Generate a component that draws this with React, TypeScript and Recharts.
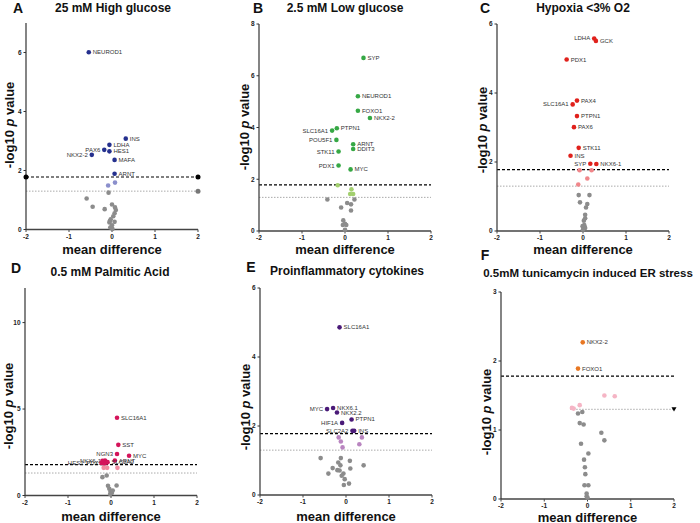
import React from "react";
import { ScatterChart, Scatter, XAxis, YAxis, ReferenceLine, ReferenceDot } from "recharts";

type Pt = { x: number; y: number; name?: string };

const xTicks = [-2, -1, 0, 1, 2];
const sigLine = 1.78;
const pLine = 1.3;

// A - 25 mM high glucose
const aSig: Pt[] = [
  { x: -0.54, y: 6.01, name: "NEUROD1" },
  { x: 0.32, y: 3.08, name: "INS" },
  { x: -0.06, y: 2.87, name: "LDHA" },
  { x: -0.18, y: 2.7, name: "PAX6" },
  { x: -0.06, y: 2.65, name: "HES1" },
  { x: -0.47, y: 2.53, name: "NKX2-2" },
  { x: 0.06, y: 2.36, name: "MAFA" },
  { x: 0.06, y: 1.89, name: "ARNT" }
];
const aNear: Pt[] = [{ x: -0.09, y: 1.49 }, { x: 0.07, y: 1.59 }];
const aNs: Pt[] = [
  { x: -0.08, y: 1.25 }, { x: -0.59, y: 1.05 }, { x: -0.45, y: 0.77 }, { x: -0.17, y: 0.69 },
  { x: 0, y: 0.85 }, { x: 0.07, y: 0.75 }, { x: 0.09, y: 0.66 }, { x: 0.06, y: 0.55 },
  { x: 0.03, y: 0.45 }, { x: -0.03, y: 0.35 }, { x: 0.06, y: 0.26 }, { x: -0.06, y: 0.24 },
  { x: 0, y: 0.14 }, { x: -0.04, y: 0.07 }, { x: 0.01, y: 0.02 }, { x: -0.05, y: 0.29 }
];

// B - 2.5 mM low glucose
const bSig: Pt[] = [
  { x: 0.43, y: 6.69, name: "SYP" },
  { x: 0.3, y: 5.21, name: "NEUROD1" },
  { x: 0.3, y: 4.65, name: "FOXO1" },
  { x: 0.58, y: 4.37, name: "NKX2-2" },
  { x: -0.19, y: 3.97, name: "PTPN1" },
  { x: -0.3, y: 3.88, name: "SLC16A1" },
  { x: -0.2, y: 3.52, name: "POU5F1" },
  { x: 0.19, y: 3.35, name: "ARNT" },
  { x: 0.19, y: 3.17, name: "DDIT3" },
  { x: -0.15, y: 3.07, name: "STK11" },
  { x: -0.15, y: 2.53, name: "PDX1" },
  { x: 0.13, y: 2.38, name: "MYC" }
];
const bNear: Pt[] = [{ x: -0.17, y: 1.77 }, { x: 0.15, y: 1.61 }, { x: 0.12, y: 1.43 }, { x: 0.19, y: 1.43 }];
const bNs: Pt[] = [
  { x: -0.41, y: 1.22 }, { x: 0.22, y: 1.22 }, { x: 0.05, y: 1.08 }, { x: 0.14, y: 1.03 },
  { x: -0.09, y: 0.91 }, { x: 0.14, y: 0.79 }, { x: -0.04, y: 0.41 }, { x: 0, y: 0.28 },
  { x: 0.03, y: 0.23 }, { x: 0, y: 0.05 }, { x: -0.05, y: 0.23 }
];

// C - hypoxia
const cSig: Pt[] = [
  { x: 0.26, y: 5.58, name: "LDHA" },
  { x: 0.3, y: 5.51, name: "GCK" },
  { x: -0.38, y: 4.97, name: "PDX1" },
  { x: -0.14, y: 3.78, name: "PAX4" },
  { x: -0.24, y: 3.67, name: "SLC16A1" },
  { x: -0.14, y: 3.33, name: "PTPN1" },
  { x: -0.21, y: 3.01, name: "PAX6" },
  { x: -0.1, y: 2.41, name: "STK11" },
  { x: -0.29, y: 2.18, name: "INS" },
  { x: 0.17, y: 1.95, name: "SYP" },
  { x: 0.31, y: 1.94, name: "NKX6-1" }
];
const cNear: Pt[] = [{ x: -0.08, y: 1.76 }, { x: 0.2, y: 1.76 }, { x: 0.1, y: 1.52 }, { x: -0.11, y: 1.35 }];
const cNs: Pt[] = [
  { x: -0.1, y: 1.04 }, { x: 0.15, y: 1.04 }, { x: -0.07, y: 0.83 }, { x: 0.1, y: 0.78 },
  { x: 0.07, y: 0.68 }, { x: 0.05, y: 0.47 }, { x: 0.05, y: 0.37 }, { x: 0.02, y: 0.3 },
  { x: 0.03, y: 0.17 }, { x: -0.01, y: 0.14 }, { x: 0.05, y: 0.09 }, { x: 0, y: 0.04 }
];

// D - palmitic acid
const dSig: Pt[] = [
  { x: 0.14, y: 4.5, name: "SLC16A1" },
  { x: 0.17, y: 2.93, name: "SST" },
  { x: 0.42, y: 2.3, name: "MYC" },
  { x: 0.14, y: 2.4, name: "NGN3" },
  { x: 0.09, y: 2.02, name: "ARNT" },
  { x: -0.14, y: 2.02, name: "NKX6-1" },
  { x: -0.12, y: 1.9, name: "PDX1" },
  { x: -0.22, y: 1.88, name: "HES1" },
  { x: -0.08, y: 1.93, name: "SLC2A2" },
  { x: -0.18, y: 1.96 }, { x: -0.16, y: 1.85 }, { x: -0.2, y: 2.0 }
];
const dNear: Pt[] = [{ x: -0.17, y: 1.6 }, { x: -0.09, y: 1.6 }, { x: 0.15, y: 1.6 }];
const dNs: Pt[] = [
  { x: -0.2, y: 1.06 }, { x: -0.1, y: 1.16 }, { x: -0.07, y: 0.56 }, { x: 0.13, y: 0.58 },
  { x: -0.04, y: 0.39 }, { x: -0.01, y: 0.25 }, { x: 0.02, y: 0.15 }, { x: -0.02, y: 0.08 },
  { x: 0.04, y: 0.29 }
];

// E - proinflammatory cytokines
const eSig: Pt[] = [
  { x: -0.15, y: 4.86, name: "SLC16A1" },
  { x: -0.44, y: 2.49, name: "MYC" },
  { x: -0.3, y: 2.52, name: "NKX6.1" },
  { x: -0.21, y: 2.39, name: "NKX2.2" },
  { x: 0.13, y: 2.19, name: "PTPN1" },
  { x: -0.09, y: 2.09, name: "HIF1A" },
  { x: 0.15, y: 1.86, name: "SLC2A2" },
  { x: 0.19, y: 1.86, name: "INS" }
];
const eNear: Pt[] = [
  { x: -0.17, y: 1.67 }, { x: 0.37, y: 1.67 }, { x: -0.12, y: 1.55 }, { x: 0.31, y: 1.47 }, { x: -0.08, y: 1.38 }
];
const eNs: Pt[] = [
  { x: -0.59, y: 1.07 }, { x: -0.12, y: 1.07 }, { x: 0.09, y: 0.99 }, { x: -0.18, y: 0.94 },
  { x: -0.13, y: 0.86 }, { x: 0.41, y: 0.86 }, { x: -0.31, y: 0.78 }, { x: 0.1, y: 0.77 },
  { x: -0.2, y: 0.72 }, { x: -0.15, y: 0.71 }, { x: -0.41, y: 0.62 }, { x: -0.06, y: 0.62 },
  { x: -0.1, y: 0.56 }, { x: -0.03, y: 0.46 }, { x: 0.07, y: 0.33 }, { x: -0.05, y: 0.29 }
];

// F - tunicamycin
const fSig: Pt[] = [
  { x: -0.11, y: 2.27, name: "NKX2-2" },
  { x: -0.22, y: 1.89, name: "FOXO1" }
];
const fNear: Pt[] = [
  { x: 0.39, y: 1.5 }, { x: 0.63, y: 1.49 }, { x: -0.18, y: 1.36 }, { x: -0.36, y: 1.32 }, { x: -0.32, y: 1.31 }
];
const fNs: Pt[] = [
  { x: -0.12, y: 1.26 }, { x: -0.22, y: 1.24 }, { x: -0.18, y: 1.1 }, { x: -0.09, y: 1.08 },
  { x: 0.32, y: 0.96 }, { x: 0.39, y: 0.85 }, { x: -0.15, y: 0.8 }, { x: 0.02, y: 0.66 },
  { x: -0.08, y: 0.57 }, { x: -0.06, y: 0.46 }, { x: -0.05, y: 0.36 }, { x: -0.07, y: 0.2 },
  { x: 0.02, y: 0.2 }, { x: -0.02, y: 0.08 }, { x: -0.02, y: 0.04 }, { x: 0, y: 0.02 }
];

const grey = "#8c8c8c";

type Cfg = {
  letter: string;
  title: string;
  plot: { l: number; r: number; t: number; b: number };
  yDomain: [number, number];
  yTicks: number[];
  sig: Pt[];
  near: Pt[];
  ns: Pt[];
  color: string;
  light: string;
  left: string[];
  shift?: Record<string, number>;
  letterAt: [number, number];
  titleAt: [number, number];
  titleSize?: number;
  yLabelAt: [number, number];
  xLabelY: number;
  dottedFrom?: number;
  endDots?: boolean;
  triangle?: boolean;
};

const panels: Cfg[] = [
  {
    letter: "A", title: "25 mM High glucose",
    plot: { l: 26, r: 198, t: 22.5, b: 229 }, yDomain: [0, 7], yTicks: [0, 2, 4, 6],
    sig: aSig, near: aNear, ns: aNs, color: "#25308e", light: "#8b8fcc",
    left: ["PAX6", "NKX2-2"], letterAt: [18, 8], titleAt: [113, 8], yLabelAt: [9, 125], xLabelY: 249,
    endDots: true
  },
  {
    letter: "B", title: "2.5 mM Low glucose",
    plot: { l: 259, r: 431, t: 24, b: 231 }, yDomain: [0, 8], yTicks: [0, 2, 4, 6, 8],
    sig: bSig, near: bNear, ns: bNs, color: "#36a845", light: "#a2cf6e",
    left: ["SLC16A1", "POU5F1", "STK11", "PDX1"], letterAt: [258, 8], titleAt: [345, 8], yLabelAt: [244, 127], xLabelY: 249
  },
  {
    letter: "C", title: "Hypoxia <3% O2",
    plot: { l: 497, r: 669, t: 24, b: 231 }, yDomain: [0, 6], yTicks: [0, 2, 4, 6],
    sig: cSig, near: cNear, ns: cNs, color: "#e0211c", light: "#f0868a",
    left: ["LDHA", "SLC16A1", "SYP"], letterAt: [485, 8], titleAt: [583, 8], yLabelAt: [482, 130], xLabelY: 249
  },
  {
    letter: "D", title: "0.5 mM Palmitic Acid",
    plot: { l: 25, r: 197, t: 287.5, b: 495 }, yDomain: [0, 12], yTicks: [0, 5, 10],
    sig: dSig, near: dNear, ns: dNs, color: "#d4145a", light: "#f28ca0",
    left: ["NGN3", "NKX6-1", "PDX1", "HES1"], shift: { HES1: -14 },
    letterAt: [16, 268], titleAt: [110, 272], yLabelAt: [8, 406], xLabelY: 516
  },
  {
    letter: "E", title: "Proinflammatory cytokines",
    plot: { l: 260, r: 432, t: 288, b: 495 }, yDomain: [0, 6], yTicks: [0, 2, 4, 6],
    sig: eSig, near: eNear, ns: eNs, color: "#4a1a78", light: "#b985c0",
    left: ["MYC", "HIF1A", "SLC2A2"], letterAt: [251, 267], titleAt: [347, 271], yLabelAt: [245, 407], xLabelY: 516
  },
  {
    letter: "F", title: "0.5mM tunicamycin induced ER stress",
    plot: { l: 501, r: 674, t: 292, b: 499 }, yDomain: [0, 3], yTicks: [0, 1, 2, 3],
    sig: fSig, near: fNear, ns: fNs, color: "#e87722", light: "#f5b5c5",
    left: [], letterAt: [485, 255], titleAt: [588, 274], titleSize: 11.5, yLabelAt: [486, 412], xLabelY: 517,
    dottedFrom: -0.4, triangle: true
  }
];

function dot(color: string, left: string[] = [], shift: Record<string, number> = {}) {
  return (p: any) => {
    const name: string | undefined = p.payload?.name;
    const isLeft = name ? left.includes(name) : false;
    const off = name ? shift[name] || 0 : 0;
    return (
      <g>
        <circle cx={p.cx} cy={p.cy} r={2.3} fill={color} />
        {name && (
          <text
            x={p.cx + (isLeft ? -4 : 4) + off}
            y={p.cy}
            dominantBaseline="central"
            textAnchor={isLeft ? "end" : "start"}
            fontSize={6}
            fill="#333"
          >
            {name}
          </text>
        )}
      </g>
    );
  };
}

function Txt({ at, size, children, rotate }: { at: [number, number]; size: number; children: React.ReactNode; rotate?: boolean }) {
  return (
    <div
      style={{
        position: "absolute",
        left: at[0],
        top: at[1],
        transform: `translate(-50%, -50%)${rotate ? " rotate(-90deg)" : ""}`,
        fontSize: size,
        fontWeight: "bold",
        whiteSpace: "nowrap",
        lineHeight: 1,
        color: "#111"
      }}
    >
      {children}
    </div>
  );
}

function Panel({ cfg }: { cfg: Cfg }) {
  const { plot } = cfg;
  const padL = 30, padT = 6, padR = 14, padB = 14;
  const width = plot.r - plot.l + padL + padR;
  const height = plot.b - plot.t + padT + padB;
  const tick = { fontSize: 6.5, fontWeight: "bold", fill: "#222" };
  return (
    <>
      <div style={{ position: "absolute", left: plot.l - padL, top: plot.t - padT }}>
        <ScatterChart width={width} height={height} margin={{ top: padT, right: padR, bottom: 0, left: 0 }}>
          <XAxis
            type="number" dataKey="x" domain={[-2, 2]} ticks={xTicks} interval={0} height={padB}
            tick={tick} tickSize={2.5} axisLine={{ stroke: "#444", strokeWidth: 1.5 }} tickLine={{ stroke: "#444" }}
          />
          <YAxis
            type="number" dataKey="y" domain={cfg.yDomain} ticks={cfg.yTicks} interval={0} width={padL}
            tick={tick} tickSize={2.5} axisLine={{ stroke: "#333", strokeWidth: 1.2 }} tickLine={{ stroke: "#333" }}
          />
          <ReferenceLine y={sigLine} stroke="#000" strokeWidth={1.2} strokeDasharray="3 2" />
          {cfg.dottedFrom !== undefined ? (
            <ReferenceLine segment={[{ x: cfg.dottedFrom, y: pLine }, { x: 2, y: pLine }]} stroke="#aaa" strokeWidth={1} strokeDasharray="1.5 1.5" />
          ) : (
            <ReferenceLine y={pLine} stroke="#aaa" strokeWidth={1} strokeDasharray="1.5 1.5" />
          )}
          {cfg.endDots && <ReferenceDot x={-2} y={sigLine} r={2.5} fill="#000" stroke="none" />}
          {cfg.endDots && <ReferenceDot x={2} y={sigLine} r={2.5} fill="#000" stroke="none" />}
          {cfg.endDots && <ReferenceDot x={2} y={pLine} r={2.5} fill="#777" stroke="none" />}
          {cfg.triangle && (
            <ReferenceDot
              x={2} y={pLine}
              shape={(p: any) => (
                <path d={`M${p.cx - 2.5},${p.cy - 2} L${p.cx + 2.5},${p.cy - 2} L${p.cx},${p.cy + 2.2} Z`} fill="#000" />
              )}
            />
          )}
          <Scatter data={cfg.ns} shape={dot(grey)} isAnimationActive={false} />
          <Scatter data={cfg.near} shape={dot(cfg.light)} isAnimationActive={false} />
          <Scatter data={cfg.sig} shape={dot(cfg.color, cfg.left, cfg.shift)} isAnimationActive={false} />
        </ScatterChart>
      </div>
      <Txt at={cfg.letterAt} size={14}>{cfg.letter}</Txt>
      <Txt at={cfg.titleAt} size={cfg.titleSize || 12}>{cfg.title}</Txt>
      <Txt at={cfg.yLabelAt} size={13} rotate>
        -log10 <i>p</i> value
      </Txt>
      <Txt at={[(plot.l + plot.r) / 2, cfg.xLabelY]} size={13}>mean difference</Txt>
    </>
  );
}

export default function App() {
  return (
    <div
      style={{
        position: "absolute", left: 0, top: 0, width: 700, height: 523, background: "#fff",
        overflow: "hidden", fontFamily: '"Liberation Sans", Arial, sans-serif'
      }}
    >
      {panels.map(p => (
        <Panel key={p.letter} cfg={p} />
      ))}
    </div>
  );
}
